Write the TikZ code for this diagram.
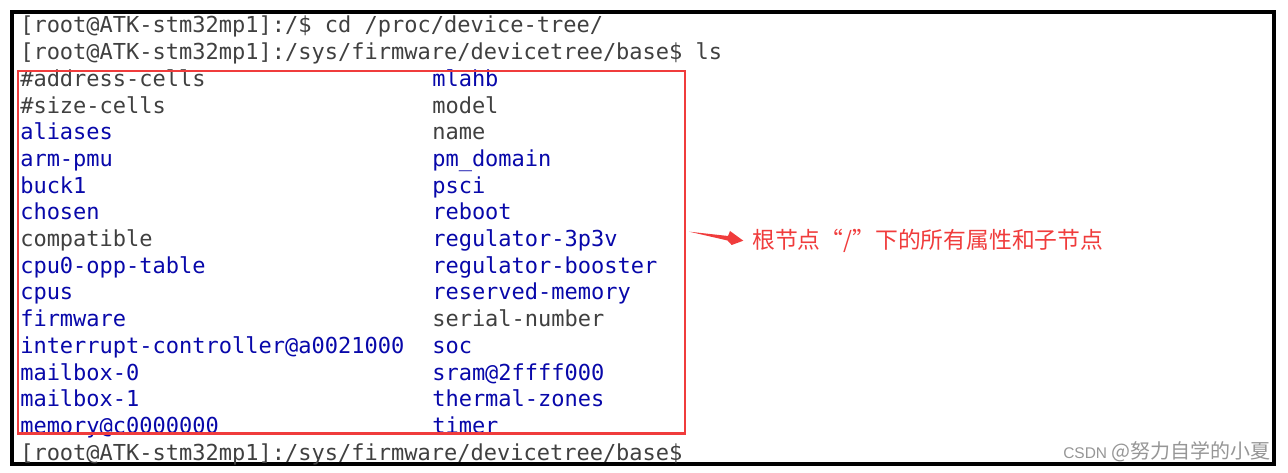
\documentclass[tikz,border=0pt]{standalone}
\usepackage{fontspec}
\setmonofont{DejaVu Sans Mono}
\newfontfamily\cjk{Noto Sans CJK SC}
\newfontfamily\wmfont{Liberation Sans}
\definecolor{termgray}{RGB}{64,64,64}
\definecolor{termblue}{RGB}{8,8,170}
\definecolor{markred}{RGB}{240,60,60}
\definecolor{wmgray}{RGB}{150,150,150}
\begin{document}
\begin{tikzpicture}[x=0.75pt,y=0.75pt] % ls of the root node, one unit = one pixel
            \tikzstyle{every node}+=[inner sep=0pt,anchor=base west]
            \tikzstyle{term}=[font=\ttfamily\fontsize{16.5}{20}\selectfont]
            \tikzstyle{file}=[term,text=termgray]
            \tikzstyle{dir}=[term,text=termblue]
            \useasboundingbox (0,0) rectangle (1288,-473);
            \fill [white] (0,0) rectangle (1288,-473);
            \draw [black,line width=2.7pt] (12,-12) rectangle (1274,-464);
            % the two commands
            \node [file] (cmdcd) at (20,-33) {[root@ATK-stm32mp1]:/\$ cd /proc/device-tree/};
            \node [file] (cmdls) at (20,-59.7) {[root@ATK-stm32mp1]:/sys/firmware/devicetree/base\$ ls};
            % left column
            \node [file] (addrcells) at (20,-86.4) {\#address-cells};
            \node [file] (sizecells) at (20,-113.1) {\#size-cells};
            \node [dir] (aliases) at (20,-139.8) {aliases};
            \node [dir] (armpmu) at (20,-166.5) {arm-pmu};
            \node [dir] (buck) at (20,-193.2) {buck1};
            \node [dir] (chosen) at (20,-219.9) {chosen};
            \node [file] (compatible) at (20,-246.6) {compatible};
            \node [dir] (cpuopp) at (20,-273.3) {cpu0-opp-table};
            \node [dir] (cpus) at (20,-300) {cpus};
            \node [dir] (firmware) at (20,-326.7) {firmware};
            \node [dir] (intc) at (20,-353.4) {interrupt-controller@a0021000};
            \node [dir] (mboxa) at (20,-380.1) {mailbox-0};
            \node [dir] (mboxb) at (20,-406.8) {mailbox-1};
            \node [dir] (memory) at (20,-433.5) {memory@c0000000};
            % right column
            \node [dir] (mlahb) at (432,-86.4) {mlahb};
            \node [file] (model) at (432,-113.1) {model};
            \node [file] (name) at (432,-139.8) {name};
            \node [dir] (pmdomain) at (432,-166.5) {pm\_domain};
            \node [dir] (psci) at (432,-193.2) {psci};
            \node [dir] (reboot) at (432,-219.9) {reboot};
            \node [dir] (regthree) at (432,-246.6) {regulator-3p3v};
            \node [dir] (regboost) at (432,-273.3) {regulator-booster};
            \node [dir] (resmem) at (432,-300) {reserved-memory};
            \node [file] (serial) at (432,-326.7) {serial-number};
            \node [dir] (soc) at (432,-353.4) {soc};
            \node [dir] (sram) at (432,-380.1) {sram@2ffff000};
            \node [dir] (thermal) at (432,-406.8) {thermal-zones};
            \node [dir] (timer) at (432,-433.5) {timer};
            % final prompt
            \node [file] (prompt) at (20,-460.2) {[root@ATK-stm32mp1]:/sys/firmware/devicetree/base\$};
            % red frame and note
            \draw [markred,line width=1.8pt] (18,-71) rectangle (685,-433.5);
            \node [text=markred,anchor=west,font=\cjk\fontsize{17.1}{19}\selectfont] (note) at (752,-241) {根节点“/”下的所有属性和子节点};
            \coordinate (tail) at (689.3,-231.7);
            \coordinate (tip) at (743.3,-240.7);
            \fill [markred] (tail) -- (728,-236) -- (730,-231) -- (tip) -- (731.7,-245) -- (727.5,-240.5) -- cycle;
            % watermark
            \node [text=wmgray] (mark) at (1063,-458.3) {\wmfont\fontsize{11.6}{13}\selectfont CSDN \cjk\fontsize{15}{16}\selectfont @努力自学的小夏};
        \end{tikzpicture}
\end{document}
